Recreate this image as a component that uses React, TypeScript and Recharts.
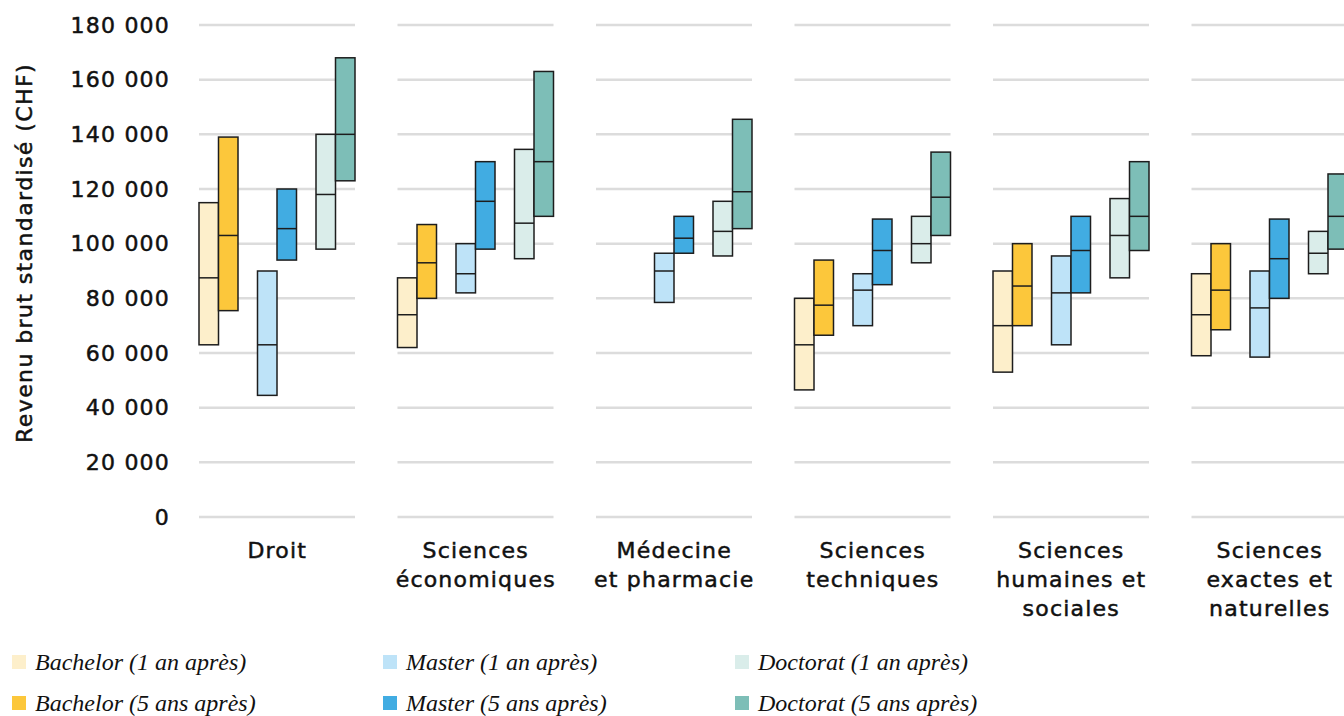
import { BarChart, Bar, XAxis, YAxis } from 'recharts'

const categories = [
  'Droit',
  'Sciences\néconomiques',
  'Médecine\net pharmacie',
  'Sciences\ntechniques',
  'Sciences\nhumaines et\nsociales',
  'Sciences\nexactes et\nnaturelles',
]

// [bas, médiane, haut] par domaine
const bachelor1 = [[63000, 87500, 115000], [62000, 74000, 87500], null, [46500, 63000, 80000], [53000, 70000, 90000], [59000, 74000, 89000]]
const bachelor5 = [[75500, 103000, 139000], [80000, 93000, 107000], null, [66500, 77500, 94000], [70000, 84500, 100000], [68500, 83000, 100000]]
const master1 = [[44500, 63000, 90000], [82000, 89000, 100000], [78500, 90000, 96500], [70000, 83000, 89000], [63000, 82000, 95500], [58500, 76500, 90000]]
const master5 = [[94000, 105500, 120000], [98000, 115500, 130000], [96500, 102000, 110000], [85000, 97500, 109000], [82000, 97500, 110000], [80000, 94500, 109000]]
const doctorat1 = [[98000, 118000, 140000], [94500, 107500, 134500], [95500, 104500, 115500], [93000, 100000, 110000], [87500, 103000, 116500], [89000, 96500, 104500]]
const doctorat5 = [[123000, 140000, 168000], [110000, 130000, 163000], [105500, 119000, 145500], [103000, 117000, 133500], [97500, 110000, 130000], [98000, 110000, 125500]]

const yTicks = [0, 20000, 40000, 60000, 80000, 100000, 120000, 140000, 160000, 180000]

const series = [
  { key: 'b1', label: 'Bachelor (1 an après)', color: '#FDEFCB' },
  { key: 'b5', label: 'Bachelor (5 ans après)', color: '#FCC73B' },
  { key: 'gap1', label: '', color: 'none' },
  { key: 'm1', label: 'Master (1 an après)', color: '#BEE3F8' },
  { key: 'm5', label: 'Master (5 ans après)', color: '#41ACE2' },
  { key: 'gap2', label: '', color: 'none' },
  { key: 'd1', label: 'Doctorat (1 an après)', color: '#DAEDEA' },
  { key: 'd5', label: 'Doctorat (5 ans après)', color: '#7DBEB7' },
]

const data = categories.map((name, i) => ({
  name,
  b1: bachelor1[i],
  b5: bachelor5[i],
  m1: master1[i],
  m5: master5[i],
  d1: doctorat1[i],
  d5: doctorat5[i],
}))

const FONT = '"DejaVu Sans", sans-serif'
const INK = '#111'

function rangeShape(key: string) {
  return (props: any) => {
    const { x, y, width, height, payload, fill } = props
    const v = payload?.[key]
    if (!v || !isFinite(height) || !height) return <g />
    const top = Math.min(y, y + height)
    const h = Math.abs(height)
    const my = top + (h * (v[2] - v[1])) / (v[2] - v[0])
    return (
      <g>
        <rect x={x} y={top} width={width} height={h} fill={fill} stroke="#1d1d1d" strokeWidth={1.5} />
        <line x1={x} x2={x + width} y1={my} y2={my} stroke="#1d1d1d" strokeWidth={1.5} />
      </g>
    )
  }
}

// gridlines drawn per category, from the full-range bar
function gridShape(props: any) {
  const { x, y, width, height } = props
  const max = yTicks[yTicks.length - 1]
  return (
    <g>
      {yTicks.map(t => {
        const ly = y + height * (1 - t / max)
        return <line key={t} x1={x} x2={x + width} y1={ly} y2={ly} stroke="#dcdcdc" strokeWidth={2.5} />
      })}
    </g>
  )
}

function CategoryTick({ x, y, payload }: any) {
  const lines = String(payload.value).split('\n')
  return (
    <text
      x={x} y={y} textAnchor="middle" fill={INK} stroke={INK} strokeWidth={0.5}
      fontSize={22} letterSpacing={1.2} fontFamily={FONT}
    >
      {lines.map((l, i) => (
        <tspan key={i} x={x} dy={i === 0 ? 41 : 29}>{l}</tspan>
      ))}
    </text>
  )
}

function AxisTitle({ viewBox }: any) {
  const cx = 24
  const cy = viewBox.y + viewBox.height / 2 - 18
  return (
    <text
      x={cx} y={cy} transform={`rotate(-90, ${cx}, ${cy})`} textAnchor="middle" dominantBaseline="central"
      fill={INK} stroke={INK} strokeWidth={0.5} fontSize={22} letterSpacing={1.4} fontFamily={FONT}
    >
      Revenu brut standardisé (CHF)
    </text>
  )
}

const legendCols = [12, 383, 735]
const legendRows = [654, 695]

export default function App() {
  const legendItems = series.filter(s => s.label)
  return (
    <div style={{ position: 'fixed', left: 0, top: 0, width: 1344, height: 716, overflow: 'hidden', background: '#fff' }}>
      <BarChart
        width={1380}
        height={716}
        data={data}
        barGap={0}
        margin={{ top: 25, right: 11, bottom: 0, left: 0 }}
      >
        <XAxis xAxisId="grid" dataKey="name" hide />
        <XAxis
          dataKey="name"
          height={199}
          interval={0}
          tickLine={false}
          axisLine={false}
          tickSize={0}
          tickMargin={0}
          tick={<CategoryTick />}
        />
        <YAxis
          domain={[0, 180000]}
          ticks={yTicks}
          width={178}
          tickLine={false}
          axisLine={false}
          tickSize={0}
          tickMargin={8}
          tickFormatter={(v: number) => v.toLocaleString('fr-CH').replace(/[\s\u2019']/g, ' ')}
          tick={{ fill: INK, stroke: INK, strokeWidth: 0.5, fontSize: 22, letterSpacing: 1.2, fontFamily: FONT }}
          label={<AxisTitle />}
        />
        <Bar
          xAxisId="grid"
          dataKey={() => [0, yTicks[yTicks.length - 1]]}
          barSize={156}
          shape={gridShape}
          isAnimationActive={false}
        />
        {series.map(s => (
          <Bar
            key={s.key}
            dataKey={(d: any) => (d[s.key] ? [d[s.key][0], d[s.key][2]] : null)}
            fill={s.color}
            barSize={19.5}
            shape={rangeShape(s.key)}
            isAnimationActive={false}
          />
        ))}
      </BarChart>
      {legendItems.map((s, i) => (
        <div
          key={s.key}
          style={{
            position: 'absolute',
            left: legendCols[Math.floor(i / 2)],
            top: legendRows[i % 2] - 3,
            height: 22,
            display: 'flex',
            alignItems: 'center',
            whiteSpace: 'nowrap',
          }}
        >
          <span style={{ display: 'inline-block', width: 14, height: 14, background: s.color, marginRight: 9 }} />
          <span style={{ fontFamily: '"Liberation Serif", serif', fontStyle: 'italic', fontSize: 24, color: INK }}>
            {s.label}
          </span>
        </div>
      ))}
    </div>
  )
}
